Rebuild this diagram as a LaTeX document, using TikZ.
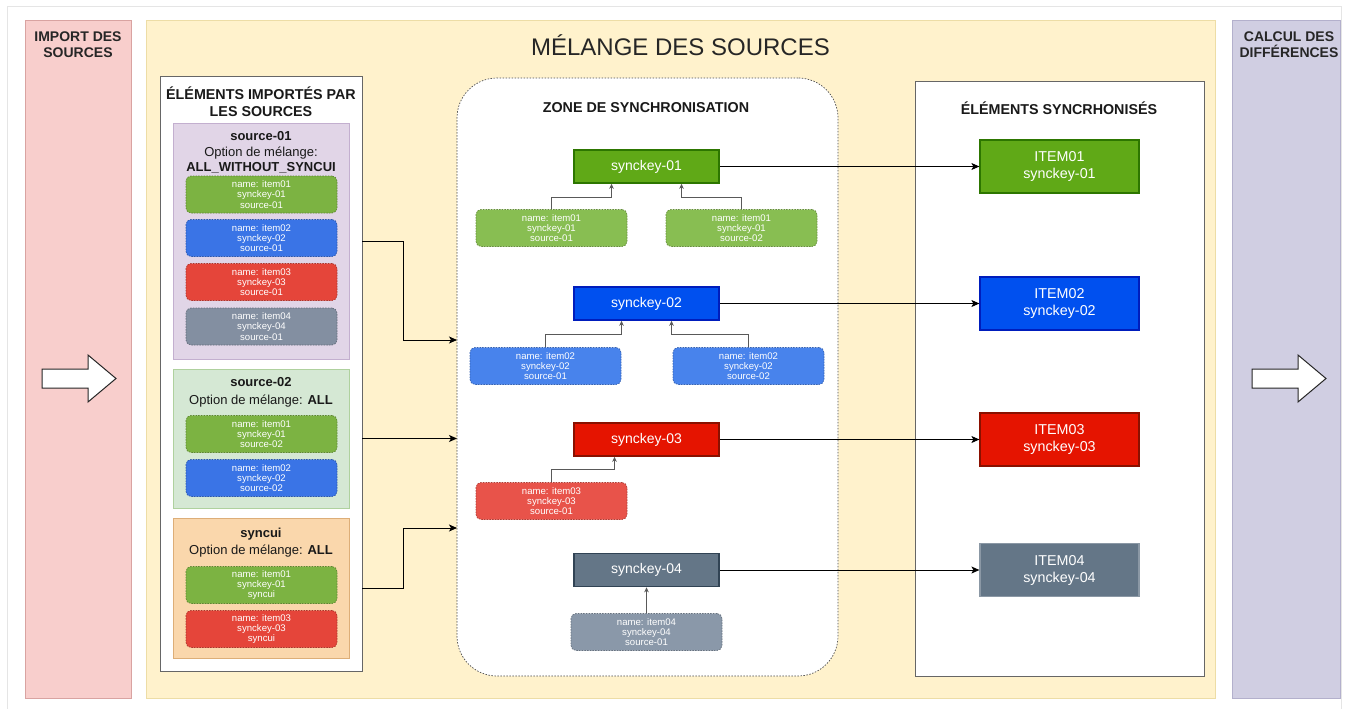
\documentclass[tikz,border=0pt]{standalone}
\usepackage{fontspec}
\setmainfont{Liberation Sans}
\usetikzlibrary{arrows.meta}

\definecolor{pinkbg}{HTML}{F8CECC}
\definecolor{pinkln}{HTML}{D9A3A1}
\definecolor{yelbg}{HTML}{FFF2CC}
\definecolor{yelln}{HTML}{EDDDA6}
\definecolor{purbg}{HTML}{D0CEE2}
\definecolor{purln}{HTML}{B3B0CC}
\definecolor{s1bg}{HTML}{E1D5E7}
\definecolor{s1ln}{HTML}{C3AFCF}
\definecolor{s2bg}{HTML}{D5E8D4}
\definecolor{s2ln}{HTML}{AFD19E}
\definecolor{s3bg}{HTML}{FAD7AC}
\definecolor{s3ln}{HTML}{DDAE78}
% couleurs des cles
\definecolor{kgrn}{HTML}{60A917}
\definecolor{kgrnln}{HTML}{2D7600}
\definecolor{kblu}{HTML}{0050EF}
\definecolor{kbluln}{HTML}{001DBC}
\definecolor{kred}{HTML}{E51400}
\definecolor{kredln}{HTML}{8A1000}
\definecolor{kgry}{HTML}{647687}
\definecolor{kgryln}{HTML}{314354}
% couleurs des elements
\definecolor{igrn}{HTML}{7CB342}
\definecolor{iblu}{HTML}{3A74E6}
\definecolor{ired}{HTML}{E5453A}
\definecolor{igry}{HTML}{838FA1}
\definecolor{zgrn}{HTML}{88BE52}
\definecolor{zblu}{HTML}{4883EC}
\definecolor{zred}{HTML}{E8534A}
\definecolor{zgry}{HTML}{8A98A9}

\begin{document}
\begin{tikzpicture}[x=1pt,y=-1pt,
    panel/.style 2 args={draw=#2, fill=#1, line width=0.8pt},
    ptitle/.style={font=\fontsize{14}{16}\selectfont\bfseries, align=center, text=black!85},
    box/.style={draw=black!60, fill=white, line width=0.8pt},
    btitle/.style={font=\fontsize{14.3}{17}\selectfont\bfseries, align=center, text=black!90},
    srctxt/.style={font=\fontsize{13}{15.5}\selectfont, align=center, text=black!90},
    item/.style={fill=#1, draw=#1!75!black, dash pattern=on 1.5pt off 1.2pt, line width=0.7pt,
        rounded corners=5pt, minimum width=151pt, minimum height=37pt, inner sep=0pt,
        text=white, align=center, font=\fontsize{9.6}{10.3}\selectfont},
    key/.style 2 args={fill=#1, draw=#2, line width=1.6pt, minimum width=145pt, minimum height=33pt,
        inner sep=0pt, text=white, font=\fontsize{14}{16}\selectfont},
    final/.style 2 args={fill=#1, draw=#2, line width=1.2pt, minimum width=159pt, minimum height=53pt,
        inner sep=0pt, text=white, align=center, font=\fontsize{14.3}{17}\selectfont},
    flow/.style={-{Stealth[length=8pt,width=7pt,inset=2pt]}, line width=1pt},
    sub/.style={-{Stealth[length=5pt,width=4.5pt,inset=1.5pt]}, draw=black!65, line width=0.8pt},
    hollow/.style={draw=black!85, fill=white, line width=1pt, line join=miter}
]
\useasboundingbox (0,0) rectangle (1345,709);
\draw[black!10, line width=1pt] (7,712) -- (7,7) -- (1341,7) -- (1341,712);

% les trois colonnes
\node[panel={pinkbg}{pinkln}, minimum width=106pt, minimum height=678pt] (imp) at (78,359) {};
\node[panel={yelbg}{yelln}, minimum width=1069pt, minimum height=678pt] (mel) at (680.5,359) {};
\node[panel={purbg}{purln}, minimum width=108pt, minimum height=678pt] (calc) at (1286,359) {};
\node[ptitle] (impt) at (78,45) {IMPORT DES\\SOURCES};
\node[font=\fontsize{24}{26}\selectfont, text=black!85] (melt) at (680.5,45) {MÉLANGE DES SOURCES};
\node[ptitle] (calct) at (1289,45) {CALCUL DES\\DIFFÉRENCES};

\foreach \x in {42,1252}
    \draw[hollow] (\x,369) -- ++(46,0) -- ++(0,-14) -- ++(28,23.5) -- ++(-28,23.5) -- ++(0,-14) -- ++(-46,0) -- cycle;

% elements importes
\node[box, minimum width=202pt, minimum height=595pt] (src) at (261,373.5) {};
\node[btitle] (srct) at (261,101.5) {ÉLÉMENTS IMPORTÉS PAR\\LES SOURCES};

\node[panel={s1bg}{s1ln}, minimum width=176pt, minimum height=236pt] (s1) at (261,241) {};
\node[srctxt] (s1t) at (261,152.5) {\textbf{source-01}\\Option de mélange:\\\textbf{ALL\_WITHOUT\_SYNCUI}};
\node[item=igrn] (a1) at (261.5,194.5) {name: item01\\synckey-01\\source-01};
\node[item=iblu] (a2) at (261.5,238) {name: item02\\synckey-02\\source-01};
\node[item=ired] (a3) at (261.5,282) {name: item03\\synckey-03\\source-01};
\node[item=igry] (a4) at (261.5,326.5) {name: item04\\synckey-04\\source-01};

\node[panel={s2bg}{s2ln}, minimum width=176pt, minimum height=139pt] (s2) at (261,438.5) {};
\node[srctxt] (s2t) at (261,392.5) {\textbf{source-02}\\[2.5pt]Option de mélange: \textbf{ALL}};
\node[item=igrn] (b1) at (261.5,434) {name: item01\\synckey-01\\source-02};
\node[item=iblu] (b2) at (261.5,478) {name: item02\\synckey-02\\source-02};

\node[panel={s3bg}{s3ln}, minimum width=176pt, minimum height=140pt] (s3) at (261,588) {};
\node[srctxt] (s3t) at (261,542.5) {\textbf{syncui}\\[1.5pt]Option de mélange: \textbf{ALL}};
\node[item=igrn] (c1) at (261.5,585) {name: item01\\synckey-01\\syncui};
\node[item=ired] (c2) at (261.5,629) {name: item03\\synckey-03\\syncui};

% zone de synchronisation
\node[draw=black!70, fill=white, dash pattern=on 1.5pt off 1.5pt, line width=0.7pt,
    rounded corners=40pt, minimum width=381pt, minimum height=598pt] (zone) at (647.5,377) {};
\node[btitle] (zonet) at (646,108) {ZONE DE SYNCHRONISATION};

\node[key={kgrn}{kgrnln}] (k1) at (646.5,166.5) {synckey-01};
\node[key={kblu}{kbluln}] (k2) at (646.5,303.5) {synckey-02};
\node[key={kred}{kredln}] (k3) at (646.5,439.5) {synckey-03};
\node[key={kgry}{kgryln}] (k4) at (646.5,570) {synckey-04};

\node[item=zgrn] (z1a) at (551.5,228) {name: item01\\synckey-01\\source-01};
\node[item=zgrn] (z1b) at (741.5,228) {name: item01\\synckey-01\\source-02};
\node[item=zblu] (z2a) at (545.5,366) {name: item02\\synckey-02\\source-01};
\node[item=zblu] (z2b) at (748.5,366) {name: item02\\synckey-02\\source-02};
\node[item=zred] (z3a) at (551.5,501) {name: item03\\synckey-03\\source-01};
\node[item=zgry] (z4a) at (646.5,632) {name: item04\\synckey-04\\source-01};

\draw[sub] (z1a.north) |- ++(0,-12) -| ([xshift=-35pt]k1.south);
\draw[sub] (z1b.north) |- ++(0,-12) -| ([xshift=35pt]k1.south);
\draw[sub] (z2a.north) |- ++(0,-13) -| ([xshift=-25pt]k2.south);
\draw[sub] (z2b.north) |- ++(0,-13) -| ([xshift=25pt]k2.south);
\draw[sub] (z3a.north) |- ++(0,-13) -| ([xshift=-32pt]k3.south);
\draw[sub] (z4a) -- (k4);

% elements synchronises
\node[box, minimum width=289pt, minimum height=595pt] (res) at (1059.5,378.5) {};
\node[btitle] (rest) at (1059,108) {ÉLÉMENTS SYNCRHONISÉS};

\node[final={kgrn}{kgrnln}] (t1) at (1059.5,166.5) {ITEM01\\synckey-01};
\node[final={kblu}{kbluln}] (t2) at (1059.5,303.5) {ITEM02\\synckey-02};
\node[final={kred}{kredln}] (t3) at (1059.5,439.5) {ITEM03\\synckey-03};
\node[final={kgry}{kgry!75!white}] (t4) at (1059.5,570) {ITEM04\\synckey-04};

\draw[flow] (k1) -- (t1);
\draw[flow] (k2) -- (t2);
\draw[flow] (k3) -- (t3);
\draw[flow] (k4) -- (t4);

% des sources vers la zone
\coordinate (in1) at (457,340);
\coordinate (in2) at (457,438.5);
\coordinate (in3) at (457,528);
\draw[flow] (src.east |- s1) -- ++(41,0) |- (in1);
\draw[flow] (src.east |- s2) -- (in2);
\draw[flow] (src.east |- s3) -- ++(41,0) |- (in3);
\end{tikzpicture}
\end{document}
